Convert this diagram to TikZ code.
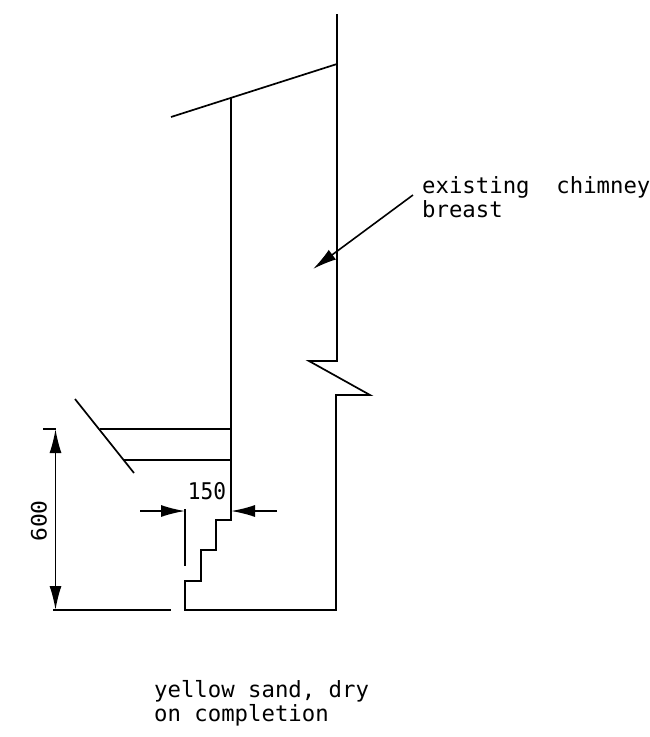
\documentclass[tikz,border=0pt]{standalone}
\usepackage{fontspec}
\setmainfont{DejaVu Sans Mono}
\usetikzlibrary{arrows.meta}

\tikzset{
  wall/.style={line width=1.7pt, line join=miter},
  dimline/.style={line width=1.6pt, {Latex[length=24pt, width=12pt]}-{Latex[length=24pt, width=12pt]}},
  leader/.style={line width=1.6pt, -{Latex[length=24pt, width=12pt]}},
  note/.style={inner sep=0, anchor=north west, align=left, font=\fontsize{22.3}{24.5}\selectfont},
  dimtext/.style={inner sep=0, xscale=0.92, font=\fontsize{23}{26}\selectfont},
}

\begin{document}
\begin{tikzpicture}[x=1pt, y=-1pt]

  \useasboundingbox (0,0) rectangle (650,737);

  \node[note] (chimney) at (422,176) {existing\ \ chimney\\breast};
  \node[note] (sand) at (154,680) {yellow sand, dry\\on completion};
  \node[dimtext] (width) at (207,491) {150};
  \node[dimtext, rotate=90] (height) at (39,521) {600};

  \coordinate (ridge) at (337,64);
  \coordinate (eaves) at (171,117);
  \coordinate (ceiling) at (231,97);
  \coordinate (slopetop) at (75,399);
  \coordinate (slopeend) at (134,473);
  \coordinate (treadtop) at (100,429);
  \coordinate (treadlow) at (124,460);
  \coordinate (groundl) at (53,610);
  \coordinate (groundr) at (171,610);
  \coordinate (toptick) at (43,429);
  \coordinate (dimtop) at (55.5,429);
  \coordinate (dimlow) at (55.5,610);
  \coordinate (leaderfrom) at (413,195);
  \coordinate (leaderto) at (313,269);
  \coordinate (insetl) at (185,509);
  \coordinate (insetlow) at (185,566);
  \coordinate (offl) at (140,511);
  \coordinate (offr) at (277,511);
  \coordinate (facel) at (185,511);
  \coordinate (facer) at (231,511);

  \draw[wall] (337,14) -- (337,361) -- (309,361) -- (370,395) -- (336,395) -- (336,610)
    -- (185,610) -- (185,581) -- (201,581) -- (201,550) -- (216,550) -- (216,520) -- (231,520) -- (ceiling);
  \draw[wall] (eaves) -- (ridge);
  \draw[wall] (slopetop) -- (slopeend);
  \draw[wall] (treadtop) -- (231,429);
  \draw[wall] (treadlow) -- (231,460);
  \draw[wall] (groundl) -- (groundr);
  \draw[wall] (insetl) -- (insetlow);

  \draw[dimline] (dimtop) -- (dimlow);
  \draw[wall] (toptick) -- (dimtop);
  \draw[leader] (offl) -- (facel);
  \draw[leader] (offr) -- (facer);
  \draw[leader] (leaderfrom) -- (leaderto);

\end{tikzpicture}
\end{document}
